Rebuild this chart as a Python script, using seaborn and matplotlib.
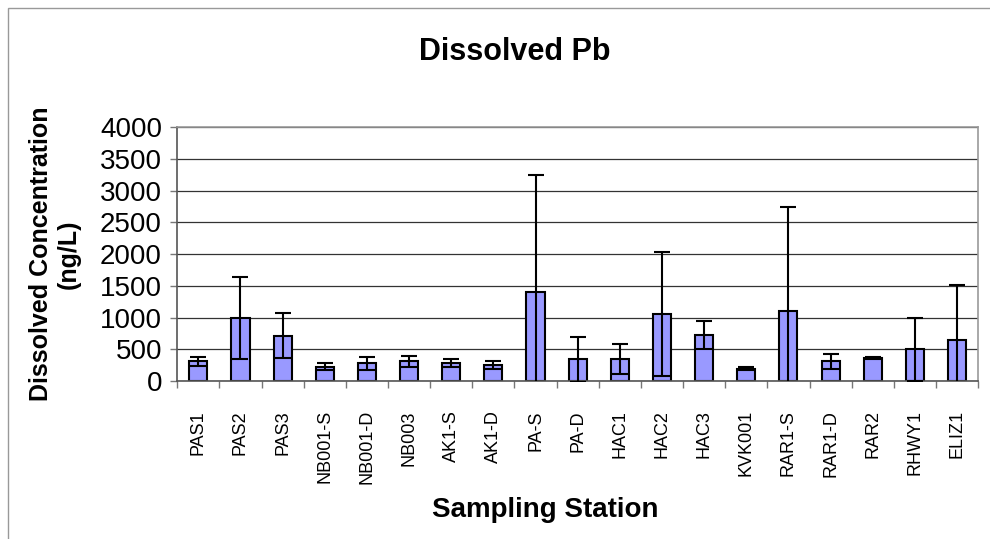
import matplotlib.pyplot as plt
import seaborn as sns
import pandas as pd
import numpy as np
from matplotlib.patches import Rectangle

# Values (ng/L)
stations = ["PAS1", "PAS2", "PAS3", "NB001-S", "NB001-D", "NB003", "AK1-S", "AK1-D",
            "PA-S", "PA-D", "HAC1", "HAC2", "HAC3", "KVK001", "RAR1-S", "RAR1-D",
            "RAR2", "RHWY1", "ELIZ1"]
mean_conc = [310, 990, 715, 225, 280, 310, 285, 253,
             1400, 345, 345, 1060, 725, 195, 1100, 310,
             365, 500, 650]
err_conc = [65, 650, 350, 55, 100, 90, 60, 60,
            1845, 355, 240, 975, 220, 25, 1650, 115,
            15, 500, 870]

df = pd.DataFrame({"station": stations, "conc": mean_conc, "err": err_conc})

sns.set_style("white")
plt.rcParams["font.family"] = ["Liberation Sans", "DejaVu Sans"]
plt.rcParams["text.color"] = "black"
plt.rcParams["axes.labelcolor"] = "black"
plt.rcParams["xtick.labelcolor"] = "black"
plt.rcParams["ytick.labelcolor"] = "black"

fig = plt.figure(figsize=(9.9, 5.39), dpi=100)
ax = fig.add_axes([0.179, 0.293, 0.809, 0.471])

sns.barplot(data=df, x="station", y="conc", color="#9999FF", saturation=1,
            edgecolor="black", linewidth=1.5, width=0.43, ax=ax, errorbar=None)

# error bars on top of the bars
ax.errorbar(np.arange(len(df)), df["conc"], yerr=df["err"], fmt="none",
            ecolor="black", elinewidth=1.5, capsize=5.8, capthick=1.5, zorder=5)

ax.set_ylim(0, 4000)
ax.set_xlim(-0.5, len(df) - 0.5)
ax.set_yticks(np.arange(0, 4001, 500))
ax.yaxis.grid(True, color="#333333", linewidth=0.9)
ax.set_axisbelow(True)

ax.tick_params(axis="y", labelsize=20, length=5, width=1, color="#777777",
               left=True, pad=6)
ax.set_xticks(np.arange(len(df)))
ax.set_xticklabels(stations, rotation=90, fontsize=13)
ax.tick_params(axis="x", which="major", length=0, pad=21)
ax.set_xticks(np.arange(len(df) + 1) - 0.5, minor=True)
ax.tick_params(axis="x", which="minor", length=5, width=1, color="#777777",
               bottom=True)

for side in ["left", "bottom"]:
    ax.spines[side].set_color("#555555")
for side in ["top", "right"]:
    ax.spines[side].set_color("#999999")
for s in ax.spines.values():
    s.set_linewidth(1.2)

ax.set_xlabel("Sampling Station", fontsize=20, fontweight="bold")
ax.xaxis.set_label_coords(0.46, -0.457)
ax.set_ylabel("Dissolved Concentration\n(ng/L)", fontsize=18, fontweight="bold",
              labelpad=14)
fig.text(0.52, 0.904, "Dissolved Pb", fontsize=22, fontweight="bold",
         ha="center", va="center")

# outer chart frame
fig.patches.append(Rectangle((8 / 990, -0.1), 1.2, 1.1 - 8 / 539,
                             transform=fig.transFigure, fill=False,
                             edgecolor="#999999", linewidth=1))

fig.savefig("out.png", dpi=100)
